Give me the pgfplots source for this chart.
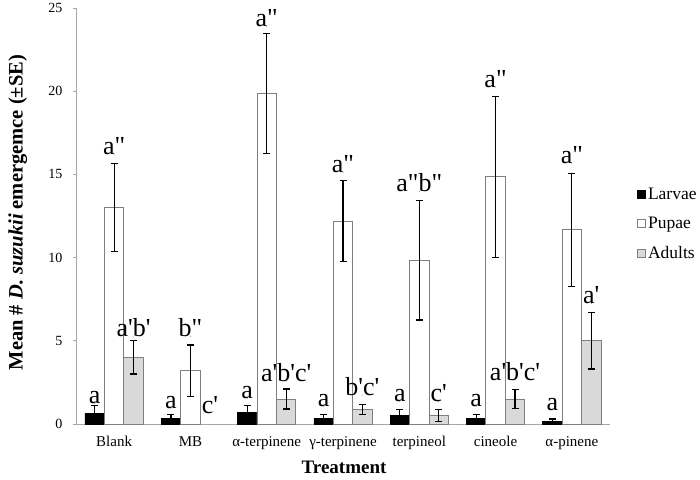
\documentclass[border=0pt]{standalone}
\usepackage{fontspec}
\setmainfont{Liberation Serif}
\usepackage{pgfplots}
\pgfplotsset{compat=1.18}
\usepackage{pgfplotstable}

\newcommand{\p}{\textquotesingle}
\newcommand{\pp}{\textquotedbl}
\definecolor{edgegray}{HTML}{7F7F7F}
\definecolor{adultfill}{HTML}{D9D9D9}

% mean, +SE, -SE
\pgfplotstableread{
x y ep em
0 0.66 0.44 0.44
1 0.35 0.20 0.20
2 0.68 0.42 0.42
3 0.35 0.20 0.20
4 0.50 0.35 0.35
5 0.33 0.22 0.22
6 0.15 0.15 0.12
}\larvae
\pgfplotstableread{
x y ep em
0 13.00 2.65 2.65
1 3.20 1.55 1.55
2 19.85 3.60 3.60
3 12.20 2.45 2.45
4 9.85 3.60 3.60
5 14.85 4.85 4.85
6 11.67 3.40 3.40
}\pupae
\pgfplotstableread{
x y ep em
0 4.00 1.00 1.00
2 1.50 0.60 0.60
3 0.85 0.30 0.30
4 0.50 0.35 0.35
5 1.50 0.55 0.55
6 5.00 1.70 1.70
}\adults
% letter labels: x position, baseline height, text
\pgfplotstableread{
x ly lab
-0.255 1.26 a
0 16.2 a\pp
0.255 5.23 a\p{}b\p
0.745 0.94 a
1 5.25 b\pp
1.255 0.65 c\p
1.745 1.55 a
2 23.9 a\pp
2.255 2.54 a\p{}b\p{}c\p
2.745 1.04 a
3 15.1 a\pp
3.255 1.74 b\p{}c\p
3.745 1.34 a
4 13.96 a\pp{}b\pp
4.255 1.34 c\p
4.745 1.04 a
5 20.2 a\pp
5.255 2.64 a\p{}b\p{}c\p
5.745 0.84 a
6 15.66 a\pp
6.255 7.24 a\p
}\labels

\begin{document}
\begin{tikzpicture}
\useasboundingbox (-76pt,-55pt) rectangle (624pt,424pt);
\begin{axis}[
    scale only axis,
    width=534pt, height=416pt,
    xmin=-0.5, xmax=6.5,
    ymin=0, ymax=25,
    clip=false,
    axis x line*=bottom,
    axis y line*=left,
    axis line style={draw=gray!70, line width=0.8pt},
    xtick={0,...,6},
    xticklabels={Blank,MB,α-terpinene,γ-terpinene,terpineol,cineole,α-pinene},
    ytick={0,5,...,25},
    x tick style={draw=none},
    y tick style={draw=gray!70, line width=0.8pt},
    tick align=outside,
    major tick length=3pt,
    /pgf/number format/assume math mode=true,
    x tick label style={font=\fontsize{15}{15}\selectfont, yshift=-6pt},
    y tick label style={font=\fontsize{14}{14}\selectfont, xshift=-7pt},
    xlabel={Treatment},
    xlabel style={font=\bfseries\fontsize{19}{19}\selectfont,
        at={(axis description cs:0.502,-0.12)}, anchor=base},
    ylabel={Mean \# \textit{D. suzukii} emergemce (±SE)},
    ylabel style={font=\bfseries\fontsize{20.5}{20.5}\selectfont,
        at={(axis description cs:-0.109,0.508)}, anchor=center},
    legend style={at={(axis description cs:1.0506,0.572)}, anchor=north west,
        draw=none, fill=none, inner sep=0pt,
        font=\fontsize{17.5}{17.5}\selectfont, row sep=12pt},
    legend cell align=left,
    legend image code/.code={\draw[#1, line width=0.8pt] (0pt,-4pt) rectangle (8pt,4pt);},
    error bars/error bar style={black, line width=1.2pt},
    error bars/error mark options={black, rotate=90, mark size=3.5pt, line width=1.2pt},
]
\addplot[ybar, bar width=0.255, bar shift=0, fill=black, draw=black,
    error bars/.cd, y dir=both, y explicit]
    table[x expr=\thisrow{x}-0.255, y=y, y error plus=ep, y error minus=em]{\larvae};
\addplot[ybar, bar width=0.255, bar shift=0, fill=white, draw=edgegray, line width=0.8pt,
    error bars/.cd, y dir=both, y explicit]
    table[x=x, y=y, y error plus=ep, y error minus=em]{\pupae};
\addplot[ybar, bar width=0.255, bar shift=0, fill=adultfill, draw=edgegray, line width=0.8pt,
    error bars/.cd, y dir=both, y explicit]
    table[x expr=\thisrow{x}+0.255, y=y, y error plus=ep, y error minus=em]{\adults};
\addplot[only marks, mark=*, mark size=0.01pt, mark options={draw=none, fill=none},
    forget plot, nodes near coords, point meta=explicit symbolic,
    nodes near coords style={anchor=base, inner sep=0pt, text=black,
        font=\fontsize{26}{26}\selectfont}]
    table[x=x, y=ly, meta=lab]{\labels};
\legend{Larvae, Pupae, Adults}
\end{axis}
\end{tikzpicture}
\end{document}
